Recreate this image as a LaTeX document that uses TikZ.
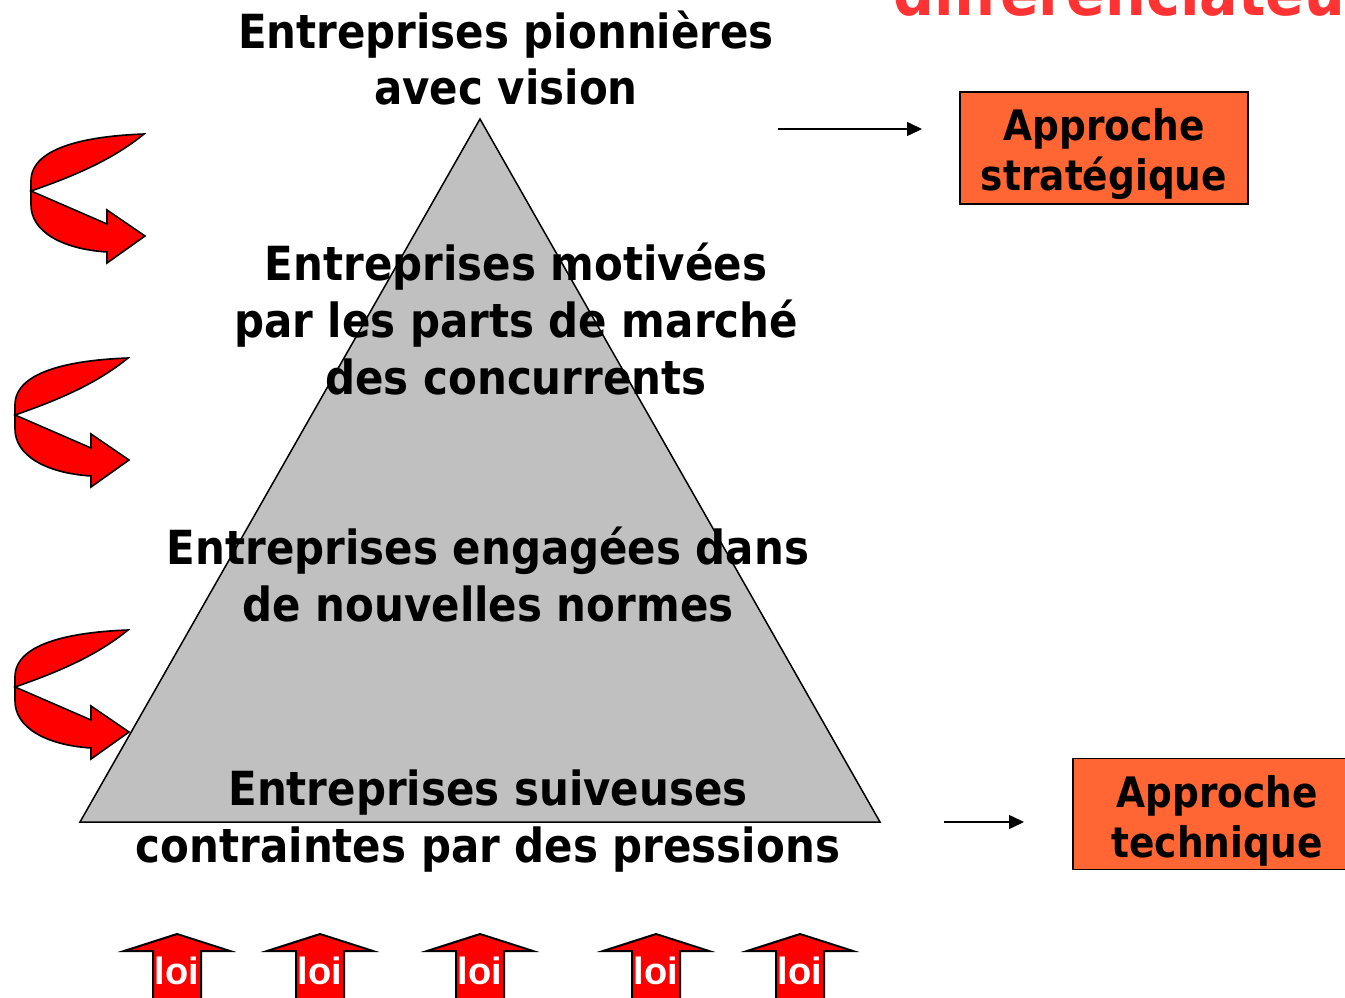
\documentclass[tikz,border=0pt]{standalone}
\usepackage{fontspec}
\usetikzlibrary{arrows.meta}
\newfontfamily\vfont[FakeStretch=0.893]{DejaVu Sans}
\newfontfamily\afont{Liberation Sans}
\definecolor{boxorange}{HTML}{FF6633}
\definecolor{titlered}{HTML}{FF3333}
\definecolor{trigray}{HTML}{C0C0C0}
\tikzset{
  level/.style={align=center,anchor=base,font=\vfont\bfseries\fontsize{47}{57}\selectfont,inner sep=0pt},
  approach/.style={draw=black,line width=1.5pt,fill=boxorange,inner sep=0pt},
  approachtext/.style={align=center,anchor=base,inner sep=0pt,
    font=\vfont\bfseries\fontsize{42}{50}\selectfont},
  connector/.style={line width=1.5pt,-{Triangle[length=15pt,width=14pt]}},
  redarrow/.style={fill=red,draw=black,line width=1.6pt,line join=miter},
  loitext/.style={text=white,font=\afont\bfseries\fontsize{38}{40}\selectfont,anchor=base,inner sep=0pt}
}
\newcommand{\curvedarrow}[2]{%
  \draw[redarrow,shift={(#1,#2)}]
    (0,0) -- (0,14) .. controls (0,40) and (30,58) .. (76,61)
    -- (76,72) -- (114,45) -- (76,19) -- (76,33) -- (0,0)
    .. controls (40,-14) and (80,-30) .. (113,-57)
    .. controls (60,-55) and (0,-45) .. (0,-10) -- cycle;}
\newcommand{\loiarrow}[2]{%
  \draw[redarrow,line width=2pt] (#1-24,1005) -- (#1-24,951) -- (#1-53,951) -- (#1,934)
    -- (#1+53,951) -- (#1+24,951) -- (#1+24,1005);
  \node[loitext] (#2) at (#1,984) {loi};}
\begin{document}
\begin{tikzpicture}[x=1pt,y=-1pt]
\useasboundingbox (0,0) rectangle (1345,998);
\clip (0,0) rectangle (1345,998);
\fill[white] (0,0) rectangle (1345,998);
% title (cut off at the top edge)
\node[anchor=base west,inner sep=0pt,text=titlered,font=\vfont\bfseries\fontsize{64}{70}\selectfont] (title) at (893,16) {différenciateur};
% pyramid
\draw[fill=trigray,line width=1.5pt,line join=miter] (480,119) -- (880,822) -- (80,822) -- cycle;
% texts (anchor = baseline of last line)
\node[level] (l1) at (506,105) {Entreprises pionnières\\avec vision};
\node[level] (l2) at (516,394) {Entreprises motivées\\par les parts de marché\\des concurrents};
\node[level] (l3) at (488,621) {Entreprises engagées dans\\de nouvelles normes};
\node[level] (l4) at (488,862) {Entreprises suiveuses\\contraintes par des pressions};
% boxes
\node[approach,minimum width=288pt,minimum height=112pt] (strat) at (1104,148) {};
\node[approachtext] (strattxt) at (1104,190) {Approche\\stratégique};
\node[approach,minimum width=300pt,minimum height=111pt,anchor=west] (tech) at (1072,814) {};
\node[approachtext] (techtxt) at (1217,857) {Approche\\technique};
% connectors
\coordinate (s1) at (778,129);
\coordinate (e1) at (922,129);
\coordinate (s2) at (944,822);
\coordinate (e2) at (1024,822);
\draw[connector] (s1) -- (e1);
\draw[connector] (s2) -- (e2);
% curved arrows
\curvedarrow{31}{191}
\curvedarrow{15}{415}
\curvedarrow{15}{687}
% loi arrows
\loiarrow{177}{loiA}
\loiarrow{320}{loiB}
\loiarrow{480}{loiC}
\loiarrow{656}{loiD}
\loiarrow{800}{loiE}
\end{tikzpicture}
\end{document}
